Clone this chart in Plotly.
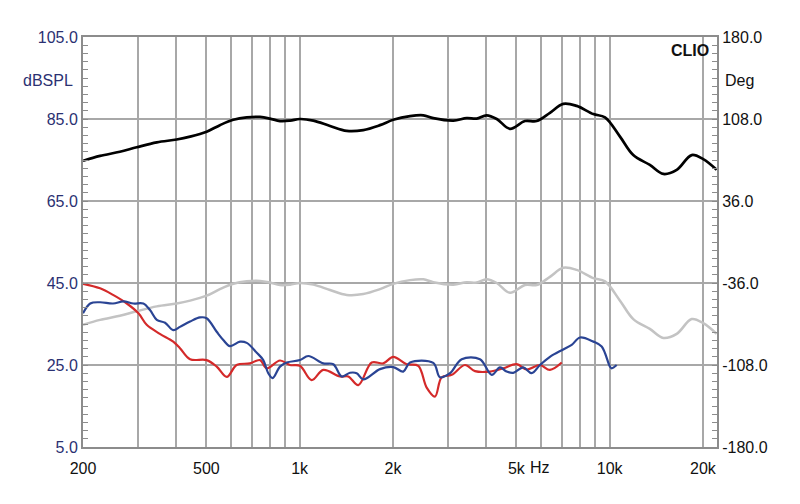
import plotly.graph_objects as go
import math

# ---------------- data ----------------
black_f = [200, 227, 263, 298, 346, 401, 443, 501, 553, 611, 675, 745, 802, 864, 931, 1002,
           1107, 1253, 1419, 1604, 1816, 2004, 2270, 2506, 2698, 3132, 3458, 3724, 4010, 4324,
           4770, 5332, 5816, 6418, 7084, 7826, 8860, 9660, 10800, 11920, 13480, 14900, 16460,
           18400, 20040, 22140]
black_db = [74.8, 76.0, 77.0, 78.1, 79.3, 80.0, 80.7, 81.9, 83.5, 84.8, 85.4, 85.5, 85.1, 84.5,
            84.6, 85.0, 84.6, 83.3, 82.1, 82.3, 83.5, 84.8, 85.7, 85.9, 85.2, 84.6, 85.2, 85.1,
            85.9, 85.0, 82.6, 84.5, 84.5, 86.5, 88.7, 88.2, 86.2, 85.4, 80.7, 76.2, 73.8, 71.6,
            72.6, 76.2, 75.2, 72.6]

gray_f = black_f
gray_db = [34.8, 36.0, 37.0, 38.1, 39.3, 40.0, 40.7, 41.9, 43.5, 44.8, 45.4, 45.5, 45.1, 44.5,
           44.6, 45.0, 44.6, 43.3, 42.1, 42.3, 43.5, 44.8, 45.7, 45.9, 45.2, 44.6, 45.2, 45.1,
           45.9, 45.0, 42.6, 44.5, 44.5, 46.5, 48.7, 48.2, 46.2, 45.4, 40.7, 36.2, 33.8, 31.6,
           32.6, 36.2, 35.2, 32.6]

blue_f = [200, 211, 227, 250, 270, 291, 313, 329, 346, 368, 391, 411, 443, 477, 501, 540, 567,
          596, 642, 675, 727, 763, 792, 818, 864, 908, 1002, 1066, 1192, 1284, 1366, 1453, 1527,
          1604, 1816, 2004, 2159, 2270, 2698, 2836, 3055, 3332, 3816, 4164, 4428, 4654, 4888,
          5266, 5604, 5960, 6418, 7084, 7544, 8022, 8860, 9426, 10024, 10152, 10536]
blue_db = [37.6, 40.0, 40.3, 40.0, 40.5, 40.0, 40.0, 38.4, 36.0, 35.3, 33.5, 34.3, 35.6, 36.6,
           36.4, 33.1, 31.1, 29.6, 30.7, 30.4, 28.0, 26.2, 23.0, 21.8, 24.6, 25.6, 26.2, 27.2,
           25.4, 25.2, 22.2, 23.1, 23.0, 21.5, 24.0, 24.5, 23.4, 25.6, 25.5, 22.0, 23.0, 26.4,
           26.4, 22.6, 24.4, 23.4, 23.1, 24.4, 23.0, 25.0, 27.0, 28.8, 29.9, 31.7, 30.7, 29.5,
           24.6, 24.2, 25.0]

red_f = [200, 227, 250, 277, 302, 321, 354, 391, 411, 443, 501, 540, 582, 626, 691, 745, 783,
         864, 931, 1002, 1093, 1192, 1349, 1435, 1546, 1708, 1861, 2004, 2214, 2413, 2569, 2732,
         2872, 3094, 3415, 3678, 4112, 4538, 5012, 5400, 5960, 6418, 7004]
red_db = [44.8, 43.7, 42.1, 40.0, 37.6, 34.8, 32.6, 30.7, 29.1, 26.4, 26.2, 24.6, 22.1, 25.0,
          25.4, 26.2, 24.2, 26.1, 25.0, 24.8, 21.3, 23.8, 22.2, 22.2, 20.1, 25.6, 25.4, 27.0,
          25.2, 24.8, 19.5, 17.3, 22.0, 22.6, 25.0, 23.5, 23.4, 24.2, 25.2, 23.9, 25.0, 23.8,
          25.6]

x_grid = [200, 300, 400, 500, 600, 700, 800, 900, 1000, 2000, 3000, 4000, 5000, 6000, 7000,
          8000, 9000, 10000, 20000]
x_labels = ["200", "", "", "500", "", "", "", "", "1k", "2k", "", "", "5k", "", "", "", "",
            "10k", "20k"]
y_left_vals = [5, 25, 45, 65, 85, 105]
y_left_text = ["5.0", "25.0", "45.0", "65.0", "85.0", "105.0"]
y_right_vals = [-180, -108, -36, 36, 108, 180]
y_right_text = ["-180.0", "-108.0", "-36.0", "36.0", "108.0", "180.0"]

# ---------------- figure ----------------
NAVY = "#2b3172"
GRID = "#a8a8a8"
FONT = "Liberation Sans, Arial, sans-serif"

fig = go.Figure()
fig.add_trace(go.Scatter(x=gray_f, y=gray_db, mode="lines", line=dict(color="#c3c3c3", width=2.5, shape="spline"), hoverinfo="skip"))
fig.add_trace(go.Scatter(x=black_f, y=black_db, mode="lines", line=dict(color="#000000", width=2.7, shape="spline"), hoverinfo="skip"))
fig.add_trace(go.Scatter(x=red_f, y=red_db, mode="lines", line=dict(color="#d42a2a", width=2.2, shape="spline"), hoverinfo="skip"))
fig.add_trace(go.Scatter(x=blue_f, y=blue_db, mode="lines", line=dict(color="#2a4494", width=2.2, shape="spline"), hoverinfo="skip"))
fig.add_trace(go.Scatter(x=[200], y=[None], yaxis="y2", mode="lines", showlegend=False, hoverinfo="skip"))

fig.update_layout(
    width=800, height=504,
    margin=dict(l=83, r=83, t=37, b=57),
    paper_bgcolor="white", plot_bgcolor="white",
    showlegend=False,
    font=dict(family=FONT, size=16, color="#111111"),
    xaxis=dict(
        type="log", range=[math.log10(200), math.log10(22200)],
        tickvals=x_grid, ticktext=x_labels, showgrid=True, gridcolor=GRID, gridwidth=1.5,
        showline=True, linecolor="#8c8c8c", linewidth=2, mirror=True, ticks="",
        tickfont=dict(size=16, color="#111111"), zeroline=False,
        ticklabelstandoff=6,
    ),
    yaxis=dict(
        range=[5, 105], tickvals=y_left_vals, ticktext=y_left_text,
        showgrid=True, gridcolor=GRID, gridwidth=1.5, zeroline=False,
        showline=True, linecolor="#8c8c8c", linewidth=2,
        ticks="inside", ticklen=5, tickcolor="#8c8c8c",
        minor=dict(dtick=2, tick0=5, ticks="inside", ticklen=5, tickcolor="#8c8c8c", showgrid=False),
        tickfont=dict(size=16, color=NAVY),
    ),
    yaxis2=dict(
        overlaying="y", side="right", range=[-180, 180],
        tickvals=y_right_vals, ticktext=y_right_text, showgrid=False, zeroline=False,
        showline=True, linecolor="#8c8c8c", linewidth=2,
        ticks="inside", ticklen=5, tickcolor="#8c8c8c",
        minor=dict(dtick=7.2, tick0=-180, ticks="inside", ticklen=5, tickcolor="#8c8c8c", showgrid=False),
        tickfont=dict(size=16, color="#111111"),
    ),
    annotations=[
        dict(text="dBSPL", xref="paper", yref="paper", x=-0.013, y=0.893, xanchor="right", yanchor="middle",
             showarrow=False, font=dict(size=16, color=NAVY)),
        dict(text="Deg", xref="paper", yref="paper", x=1.010, y=0.893, xanchor="left", yanchor="middle",
             showarrow=False, font=dict(size=16, color="#111111")),
        dict(text="<b>CLIO</b>", xref="paper", yref="paper", x=0.99, y=0.968, xanchor="right", yanchor="middle",
             showarrow=False, font=dict(size=16, color="#111111")),
        dict(text="Hz", xref="x", yref="paper", x=math.log10(5450), y=-0.051, xanchor="left", yanchor="middle",
             showarrow=False, font=dict(size=16, color="#111111")),
    ],
)

fig.write_html("out.html")
